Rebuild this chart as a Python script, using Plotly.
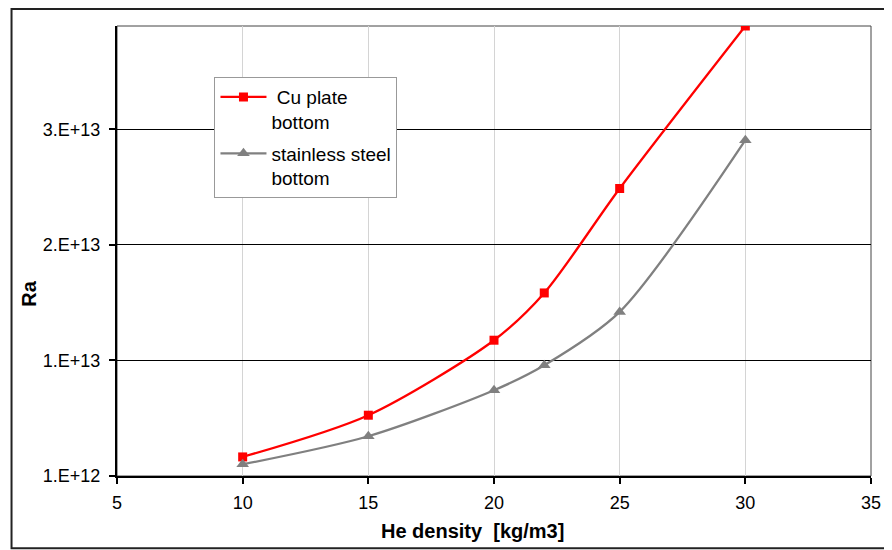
import plotly.graph_objects as go

# Data
density = [10, 15, 20, 22, 25, 30]
ra_cu = [2.65e12, 6.26e12, 1.275e13, 1.684e13, 2.588e13, 3.994e13]
ra_steel = [2.01e12, 4.44e12, 8.42e12, 1.058e13, 1.52e13, 3.006e13]
y_tickvals = [1e12, 1.1e13, 2.1e13, 3.1e13]
y_ticktext = ["1.E+12", "1.E+13", "2.E+13", "3.E+13"]
x_tickvals = [5, 10, 15, 20, 25, 30, 35]

OFF = 8  # page body margin
W, H = 892 - OFF, 550 - OFF
ml, mt = 116.5 - OFF, 26 - OFF
mr = W - (870.7 - OFF)
mb = H - (475.7 - OFF)
pw = W - ml - mr
ph = H - mt - mb

def px(x):
    return (x - OFF - ml) / pw

def py(y):
    return (H - mb - (y - OFF)) / ph

FONT = "Liberation Sans, Arial, sans-serif"

fig = go.Figure()
fig.add_trace(go.Scatter(
    x=density, y=ra_cu, mode="lines+markers", name=" Cu plate<br>bottom",
    legendgroup="a",
    line=dict(color="#FF0000", width=2.3, shape="spline", smoothing=0.8),
    marker=dict(symbol="square", size=9, color="#FF0000"),
))
fig.add_trace(go.Scatter(
    x=density, y=ra_steel, mode="lines+markers", name="stainless steel<br>bottom",
    legendgroup="b",
    line=dict(color="#808080", width=2.3, shape="spline", smoothing=0.8),
    marker=dict(symbol="triangle-up", size=11, color="#808080"),
))

fig.update_layout(
    width=W, height=H,
    margin=dict(l=ml, r=mr, t=mt, b=mb),
    paper_bgcolor="white", plot_bgcolor="white",
    font=dict(family=FONT, color="black", size=18),
    showlegend=True,
    legend=dict(
        x=px(214), y=py(77), xanchor="left", yanchor="top",
        bordercolor="#999999", borderwidth=1, bgcolor="white",
        font=dict(size=19, family=FONT), valign="top",
        tracegroupgap=4, itemwidth=46,
    ),
    xaxis=dict(
        range=[5, 35], tickvals=x_tickvals, showgrid=True, gridcolor="#d4d4d4", gridwidth=1,
        showline=True, linecolor="black", linewidth=2, ticks="outside", ticklen=6,
        tickwidth=2, tickcolor="black", zeroline=False, tickfont=dict(size=18),
        ticklabelstandoff=3,
    ),
    yaxis=dict(
        range=[1e12, 3.994e13], tickvals=y_tickvals, ticktext=y_ticktext,
        showgrid=True, gridcolor="black", gridwidth=1,
        showline=True, linecolor="black", linewidth=2, ticks="outside", ticklen=6,
        tickwidth=2, tickcolor="black", zeroline=False, tickfont=dict(size=18),
        ticklabelstandoff=5,
    ),
    shapes=[
        dict(type="rect", xref="paper", yref="paper", x0=0, x1=1, y0=0, y1=1,
             line=dict(color="#444444", width=1), layer="below"),
        dict(type="rect", xref="paper", yref="paper", x0=px(11), x1=px(905),
             y0=py(548), y1=py(9), line=dict(color="#222222", width=2)),
    ],
    annotations=[
        dict(text="<b>He density  [kg/m3]</b>", xref="paper", yref="paper",
             x=px(472), y=py(531), showarrow=False, font=dict(size=20),
             xanchor="center", yanchor="middle"),
        dict(text="<b>Ra</b>", xref="paper", yref="paper", textangle=-90,
             x=px(29), y=py(294), showarrow=False, font=dict(size=20),
             xanchor="center", yanchor="middle"),
    ],
)

fig.write_html("out.html")
